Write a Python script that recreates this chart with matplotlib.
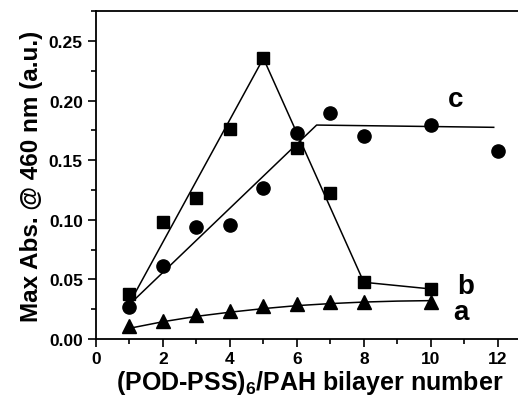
import matplotlib
matplotlib.use('Agg')
import matplotlib.pyplot as plt
from matplotlib.ticker import MultipleLocator

plt.rcParams['font.family'] = ['Liberation Sans', 'DejaVu Sans']
plt.rcParams['font.weight'] = 'bold'
plt.rcParams['mathtext.fontset'] = 'custom'
plt.rcParams['mathtext.rm'] = 'Liberation Sans:bold'
plt.rcParams['mathtext.it'] = 'Liberation Sans:bold'
plt.rcParams['mathtext.bf'] = 'Liberation Sans:bold'

# series a (triangles) with its fitted curve
a_x = [1, 2, 3, 4, 5, 6, 7, 8, 10]
a_y = [0.0105, 0.0154, 0.020, 0.0238, 0.028, 0.0294, 0.0313, 0.0313, 0.0313]
a_fit_x = [1, 2, 3, 4, 5, 6, 7, 8, 9, 10]
a_fit_y = [0.009, 0.0145, 0.019, 0.0225, 0.0255, 0.028, 0.0297, 0.031, 0.0318, 0.0322]

# series b (squares) with its guide line
b_x = [1, 2, 3, 4, 5, 6, 7, 8, 10]
b_y = [0.0378, 0.098, 0.118, 0.176, 0.2355, 0.160, 0.1225, 0.0476, 0.042]
b_line_x = [1, 5, 8, 10]
b_line_y = [0.030, 0.2355, 0.0476, 0.042]

# series c (circles) with its guide line
c_x = [1, 2, 3, 4, 5, 6, 7, 8, 10, 12]
c_y = [0.0266, 0.0615, 0.0937, 0.0956, 0.127, 0.173, 0.1896, 0.170, 0.1798, 0.158]
c_line_x = [1, 6.59, 11.88]
c_line_y = [0.029, 0.1795, 0.1776]

fig = plt.figure(figsize=(5.18, 4.02), dpi=100)
ax = fig.add_axes([96 / 518, (402 - 340) / 402, (518 - 96) / 518 + 0.01, (340 - 12) / 402])

ax.plot(a_fit_x, a_fit_y, color='black', lw=1.1)
ax.plot(a_x, a_y, '^', color='black', ms=10, ls='none')
ax.plot(b_line_x, b_line_y, color='black', lw=1.1)
ax.plot(b_x, b_y, 's', color='black', ms=8.8, ls='none')
ax.plot(c_line_x, c_line_y, color='black', lw=1.1)
ax.plot(c_x, c_y, 'o', color='black', ms=9.5, ls='none')

ax.text(10.75, 0.201, 'c', fontsize=20, fontweight='bold', ha='center', va='center')
ax.text(11.05, 0.0447, 'b', fontsize=20, fontweight='bold', ha='center', va='center')
ax.text(10.9, 0.0226, 'a', fontsize=20, fontweight='bold', ha='center', va='center')

ax.set_xlim(0, 12.76)
ax.set_ylim(0, 0.2752)
ax.xaxis.set_major_locator(MultipleLocator(2))
ax.xaxis.set_minor_locator(MultipleLocator(1))
ax.yaxis.set_major_locator(MultipleLocator(0.05))
ax.yaxis.set_minor_locator(MultipleLocator(0.025))
ax.yaxis.set_major_formatter(plt.FormatStrFormatter('%.2f'))
ax.tick_params(which='major', direction='out', length=6, width=1.2, labelsize=12.5)
ax.tick_params(axis='x', which='major', pad=3)
ax.tick_params(which='minor', direction='out', length=3.5, width=1.2)
ax.spines['right'].set_visible(False)
for s in ['left', 'bottom', 'top']:
    ax.spines[s].set_linewidth(1.3)

ax.set_ylabel('Max Abs. @ 460 nm (a.u.)', fontsize=17.5, fontweight='bold', labelpad=4)
ax.set_xlabel(r'(POD-PSS)$_6$/PAH bilayer number', fontsize=18, fontweight='bold', labelpad=1)

fig.savefig('out.png', dpi=100)
